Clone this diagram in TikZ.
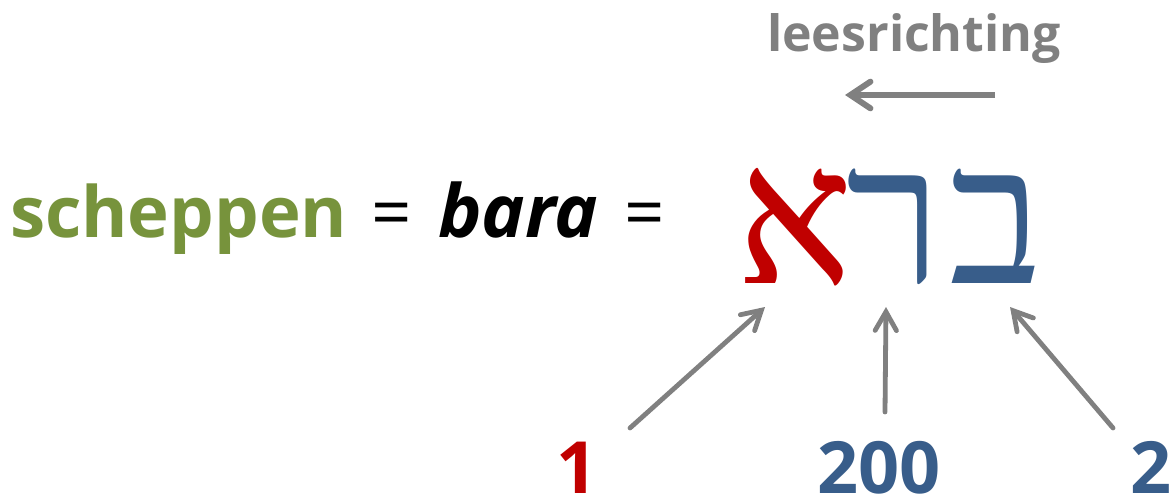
\documentclass[tikz,border=0pt]{standalone}
\usepackage{fontspec}
\setmainfont{Open Sans}
\newfontfamily\hebfont[Script=Hebrew]{Liberation Serif}
\usetikzlibrary{arrows.meta}
\TeXXeTstate=1
\definecolor{tgreen}{RGB}{119,147,60}
\definecolor{tblue}{RGB}{56,93,138}
\definecolor{tred}{RGB}{192,0,0}
\definecolor{tgray}{RGB}{128,128,128}
\tikzset{
  lbl/.style={inner sep=0pt, outer sep=0pt, font=\bfseries\fontsize{53}{60}\selectfont},
  eqlbl/.style={inner sep=0pt, outer sep=0pt, font=\fontsize{53}{60}\selectfont},
  numlbl/.style={inner sep=0pt, outer sep=0pt, font=\bfseries\fontsize{54}{60}\selectfont},
  heb/.style={inner sep=0pt, outer sep=0pt, font=\hebfont\fontsize{146}{160}\selectfont, text=tblue},
  arr/.style={draw=tgray, line width=3.6pt, line cap=round, -{Straight Barb[length=14pt,width=16pt,line cap=round]}},
  toparr/.style={draw=tgray, line width=4.5pt, -{Straight Barb[length=15pt,width=20pt,line cap=round]}}
}
\begin{document}
\begin{tikzpicture}[x=0.75pt,y=-0.75pt]
\useasboundingbox (0,0) rectangle (1176,502);
% reading direction
\node[lbl, font=\bfseries\fontsize{37.5}{46}\selectfont, text=tgray, anchor=base] (lees) at (914,52) {leesrichting};
\coordinate (rs) at (995,95);
\coordinate (re) at (845,95);
\draw[toparr] (rs) -- (re);
% left text
\node[lbl, text=tgreen, anchor=base west] (schep) at (10,238) {scheppen};
\node[eqlbl, anchor=base] (eq1) at (392,238) {=};
\node[lbl, anchor=base west, font=\bfseries\itshape\fontsize{55}{60}\selectfont] (bara) at (438,238) {bara};
\node[eqlbl, anchor=base] (eq2) at (645,238) {=};
% hebrew letters
\node[heb, text=tred, anchor=base] (aleph) at (795,283) {\beginR א\endR};
\node[heb, anchor=base] (resh) at (894,283) {\beginR ר\endR};
\node[heb, anchor=base] (bet) at (996,283) {\beginR ב\endR};
% numbers
\node[numlbl, text=tred, anchor=base] (n1) at (577,493) {1};
\node[numlbl, text=tblue, anchor=base] (n200) at (879,493) {200};
\node[numlbl, text=tblue, anchor=base] (n2) at (1151,493) {2};
% arrows
\coordinate (s1) at (630,428);
\coordinate (t1) at (765,307);
\coordinate (s2) at (885,412);
\coordinate (t2) at (886,307);
\coordinate (s3) at (1113,428);
\coordinate (t3) at (1010,307);
\draw[arr] (s1) -- (t1);
\draw[arr] (s2) -- (t2);
\draw[arr] (s3) -- (t3);
\end{tikzpicture}
\end{document}
